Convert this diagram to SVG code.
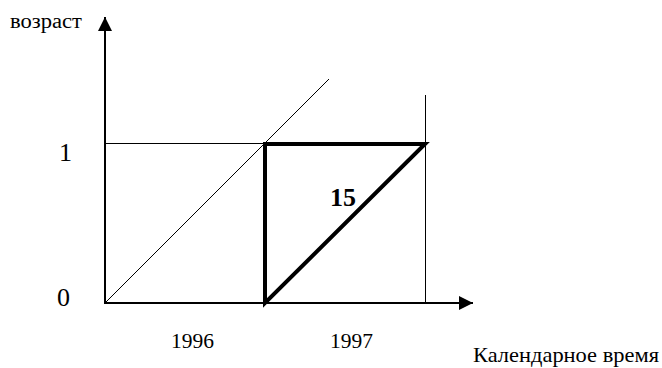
<svg xmlns="http://www.w3.org/2000/svg" width="662" height="368" viewBox="0 0 662 368">
<style>
.t{font-family:"Liberation Serif","Times New Roman",serif;fill:#000}
.thin{stroke:#000;stroke-width:1;fill:none}
.axis{stroke:#000;stroke-width:2;fill:none}
.thick{stroke:#000;stroke-width:4;fill:none}
</style>
<defs>
<marker id="arr" viewBox="0 0 10 10" refX="10" refY="5" markerWidth="14" markerHeight="14" markerUnits="userSpaceOnUse" orient="auto">
<path d="M0,0 L10,5 L0,10 Z" fill="#000"/>
</marker>
</defs>
<g id="connectors">
<line class="axis" x1="105" y1="304" x2="105" y2="17" marker-end="url(#arr)"/>
<line class="axis" x1="104" y1="303" x2="473" y2="303" marker-end="url(#arr)"/>
<line class="thin" x1="105" y1="303" x2="329" y2="79"/>
<line class="thin" x1="105" y1="143.5" x2="425" y2="143.5"/>
<line class="thin" x1="425.5" y1="95" x2="425.5" y2="303"/>
<path class="thick" d="M265,303 L265,144 L425,144 Z" stroke-linejoin="miter"/>
</g>
<g id="labels">
<text class="t" x="10" y="28" font-size="20" textLength="72" lengthAdjust="spacingAndGlyphs">возраст</text>
<text class="t" x="59" y="161" font-size="26">1</text>
<text class="t" x="57" y="306" font-size="26">0</text>
<text class="t" x="171" y="348" font-size="21.5">1996</text>
<text class="t" x="330" y="348" font-size="21.5">1997</text>
<text class="t" x="473" y="362" font-size="21" textLength="186" lengthAdjust="spacingAndGlyphs">Календарное время</text>
<text class="t" x="330" y="206" font-size="26" font-weight="bold">15</text>
</g>
</svg>
